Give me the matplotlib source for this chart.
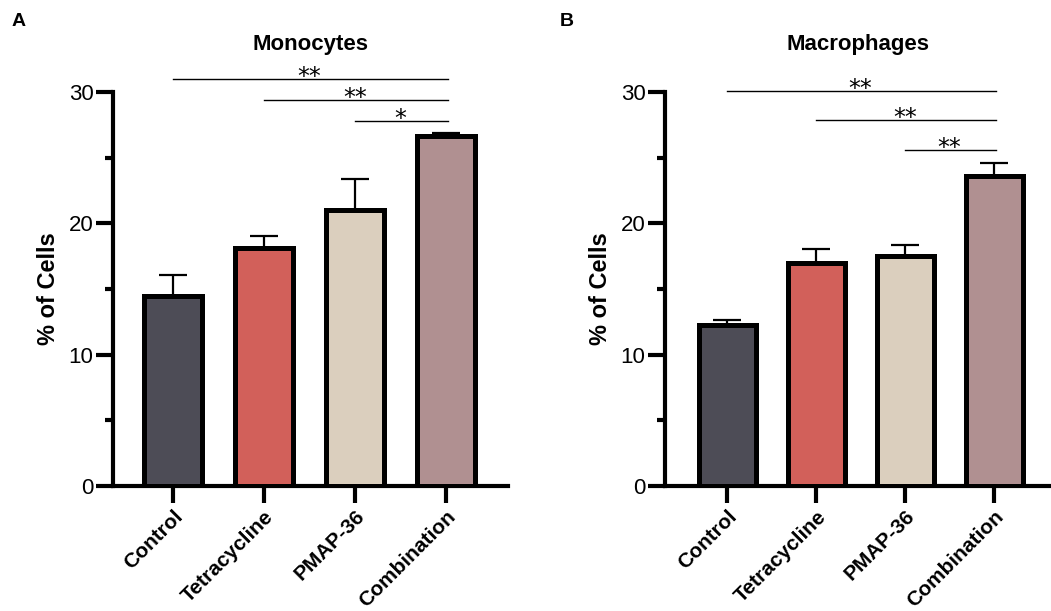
import matplotlib
matplotlib.use("Agg")
import matplotlib.pyplot as plt

plt.rcParams['font.family'] = ['Liberation Sans', 'DejaVu Sans']

groups = ['Control', 'Tetracycline', 'PMAP-36', 'Combination']
colors = ['#4d4c56', '#d2605a', '#dbcfbe', '#b09091']

mono_mean = [14.5, 18.1, 21.0, 26.65]
mono_err = [1.6, 0.9, 2.4, 0.25]
mono_sig = [(0, 3, '**'), (1, 3, '**'), (2, 3, '*')]
mono_sig_y = [31.0, 29.4, 27.8]

macro_mean = [12.25, 17.0, 17.5, 23.6]
macro_err = [0.4, 1.05, 0.85, 1.0]
macro_sig = [(0, 3, '**'), (1, 3, '**'), (2, 3, '**')]
macro_sig_y = [30.1, 27.9, 25.6]

fig = plt.figure(figsize=(10.51, 6.11), dpi=100)
axA = fig.add_axes([113/1051, 1-486/611, (508-113)/1051, (486-92)/611])
axB = fig.add_axes([665/1051, 1-486/611, (1051-665)/1051, (486-92)/611])


def panel(ax, means, errs, sig, sig_y, title, xlim, letter, lx):
    x = list(range(len(groups)))
    ax.bar(x, means, width=0.64, color=colors, edgecolor='black', linewidth=3.6, zorder=3)
    ax.errorbar(x, means, yerr=[[0]*len(errs), errs], fmt='none', ecolor='black',
                elinewidth=1.6, capsize=10, capthick=1.6, zorder=2)
    ax.set_xlim(*xlim)
    ax.set_ylim(0, 30)
    ax.set_yticks([0, 10, 20, 30])
    ax.set_yticks([5, 15, 25], minor=True)
    ax.set_xticks(x)
    ax.set_xticklabels(groups, rotation=45, ha='right', rotation_mode='anchor',
                       fontsize=15, fontweight='bold')
    ax.tick_params(axis='y', which='major', length=12, width=3, labelsize=16, pad=2)
    ax.tick_params(axis='y', which='minor', length=6, width=3)
    ax.tick_params(axis='x', length=12, width=3, pad=3)
    for s in ['top', 'right']:
        ax.spines[s].set_visible(False)
    for s in ['left', 'bottom']:
        ax.spines[s].set_linewidth(3)
    ax.set_ylabel('% of Cells', fontsize=17, fontweight='bold', labelpad=6)
    for (a, b, star), y in zip(sig, sig_y):
        ax.plot([a, b + 0.02], [y, y], color='black', lw=1, clip_on=False)
        ax.annotate(star, xy=((a + b) / 2, y), xytext=(0, -4), textcoords='offset points',
                    ha='center', va='baseline', fontsize=17, family='DejaVu Sans',
                    annotation_clip=False)
    ax.set_title(title, fontsize=16, fontweight='bold', pad=30)
    fig.text(lx, 1 - 22/611, letter, fontsize=14, fontweight='bold', va='center')


panel(axA, mono_mean, mono_err, mono_sig, mono_sig_y, 'Monocytes', (-0.66, 3.68), 'A', 12/1051)
panel(axB, macro_mean, macro_err, macro_sig, macro_sig_y, 'Macrophages', (-0.70, 3.64), 'B', 560/1051)

fig.savefig('out.png', dpi=100)
